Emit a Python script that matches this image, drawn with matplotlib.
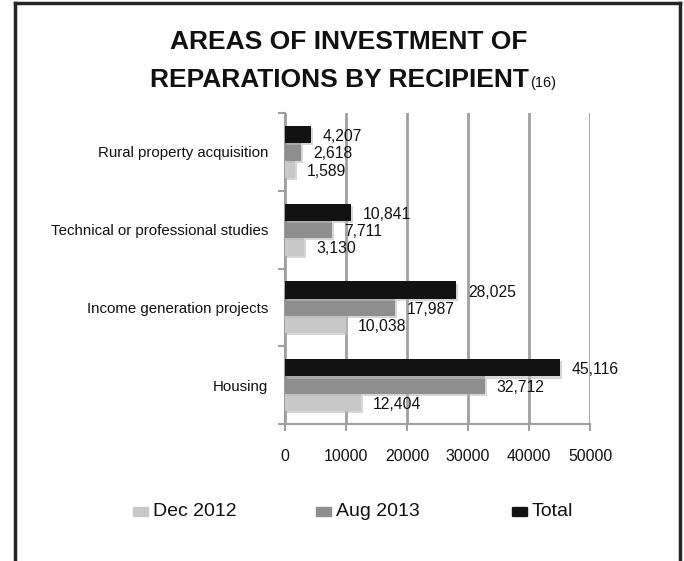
import matplotlib
matplotlib.use("Agg")
import matplotlib.pyplot as plt
import matplotlib.patheffects as pe
from matplotlib.patches import Rectangle
from matplotlib.lines import Line2D

plt.rcParams['font.family'] = ['Liberation Sans', 'DejaVu Sans']

categories = ['Housing', 'Income generation projects',
              'Technical or professional studies', 'Rural property acquisition']
series_names = ['Dec 2012', 'Aug 2013', 'Total']
dec_2012 = [12404, 10038, 3130, 1589]
aug_2013 = [32712, 17987, 7711, 2618]
total = [45116, 28025, 10841, 4207]
x_ticks = [0, 10000, 20000, 30000, 40000, 50000]

colors = ['#c8c8c8', '#8e8e8e', '#121212']
W, H = 684, 561

fig = plt.figure(figsize=(6.84, 5.61), dpi=100)

# frame around the chart (open at the bottom)
frame_kw = dict(color='#252525', linewidth=2.5, transform=fig.transFigure)
fig.add_artist(Line2D([15 / W, 15 / W], [0, 1 - 2.5 / H], **frame_kw))
fig.add_artist(Line2D([15 / W, 680 / W], [1 - 2.5 / H, 1 - 2.5 / H], **frame_kw))
fig.add_artist(Line2D([680 / W, 680 / W], [0, 1 - 2.5 / H], **frame_kw))

ax = fig.add_axes([285 / W, 1 - 424 / H, 305 / W, 311 / H])

h = 0.222
shadow = [pe.SimplePatchShadow(offset=(1.5, -1.5), shadow_rgbFace='#bbbbbb', alpha=0.6), pe.Normal()]
for k, (vals, name) in enumerate(zip([dec_2012, aug_2013, total], series_names)):
    ys = [i + (k - 1) * h for i in range(len(categories))]
    bars = ax.barh(ys, vals, height=h, color=colors[k], label=name, zorder=3)
    for b in bars:
        b.set_path_effects(shadow)
    for y, v in zip(ys, vals):
        ax.annotate(f'{v:,}', (v, y), xytext=(8.5, -1.5), textcoords='offset points',
                    va='center', ha='left', fontsize=11.3, color='#111111', zorder=4)

ax.set_xlim(0, 50000)
ax.set_ylim(-0.5, len(categories) - 0.5)
ax.set_xticks(x_ticks)
ax.set_xticklabels([str(t) for t in x_ticks], fontsize=11.4, color='#111111')
ax.set_yticks(range(len(categories)))
ax.set_yticklabels(categories, fontsize=10.8, color='#111111')
ax.set_yticks([i - 0.5 for i in range(len(categories) + 1)], minor=True)
ax.tick_params(axis='y', which='major', length=0, pad=12)
ax.tick_params(axis='y', which='minor', length=5, width=1.5, color='#a0a0a0', direction='out')
ax.tick_params(axis='x', length=5, width=1.5, color='#a0a0a0', direction='out', pad=13)
ax.grid(axis='x', color='#a0a0a0', linewidth=2, zorder=0)
for s in ['top', 'right']:
    ax.spines[s].set_visible(False)
for s in ['left', 'bottom']:
    ax.spines[s].set_color('#a0a0a0')
    ax.spines[s].set_linewidth(1.5)

# title
fig.text(349 / W, 1 - 49 / H, 'AREAS OF INVESTMENT OF', ha='center', va='baseline',
         fontsize=19, fontweight='bold', color='#111111')
t2 = fig.text(150 / W, 1 - 87 / H, 'REPARATIONS BY RECIPIENT', ha='left', va='baseline',
              fontsize=19, fontweight='bold', color='#111111')
fig.canvas.draw()
bb = t2.get_window_extent()
fig.text(bb.x1 / W + 1 / W, 1 - 87 / H, '(16)', ha='left', va='baseline',
         fontsize=10.5, color='#111111')

# legend
legend_x = [133, 316, 512]
ly = 1 - 511 / H
for x, c, name in zip(legend_x, colors, series_names):
    fig.add_artist(Rectangle((x / W, ly - 4.5 / H), 15 / W, 9 / H, color=c,
                             transform=fig.transFigure))
    fig.text((x + 20) / W, ly, name, ha='left', va='center', fontsize=14, color='#111111')

fig.savefig('out.png', dpi=100)
